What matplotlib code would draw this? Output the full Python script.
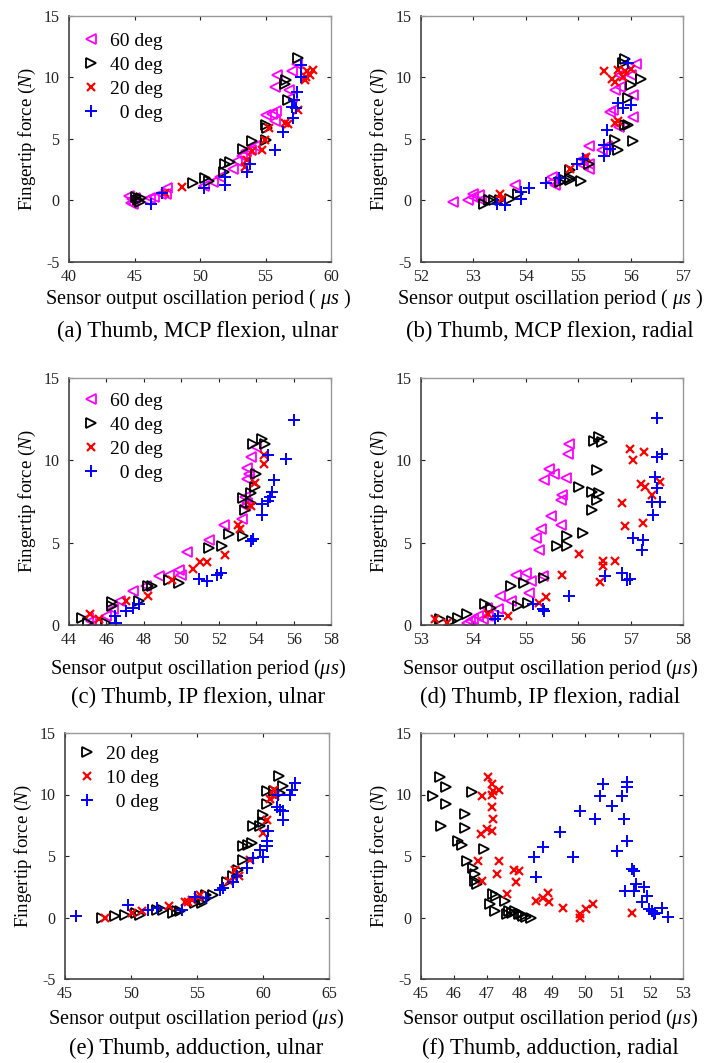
import matplotlib
matplotlib.use("Agg")
import matplotlib.pyplot as plt

plt.rcParams['font.family'] = ['Liberation Serif', 'DejaVu Serif']
plt.rcParams['mathtext.fontset'] = 'custom'
plt.rcParams['mathtext.rm'] = 'Liberation Serif'
plt.rcParams['mathtext.it'] = 'Liberation Serif:italic'
plt.rcParams['axes.unicode_minus'] = False

# ---------------- data ----------------
# (a) Thumb, MCP flexion, ulnar
a60_x = [44.6, 44.7, 44.8, 44.9, 45.0, 45.9, 46.2, 46.5, 47.0, 47.5, 47.4, 50.3, 51.0, 51.5, 52.5, 52.8,
         53.2, 53.5, 53.9, 54.2, 55.5, 55.8, 55.7, 55.9, 55.7, 57.0, 57.4, 57.0, 56.8, 55.0]
a60_y = [0.4, -0.2, 0.1, -0.3, 0.2, 0.0, 0.2, 0.3, 0.5, 1.0, 0.5, 1.2, 1.5, 1.9, 2.6, 3.2,
         3.6, 4.0, 4.1, 4.4, 7.0, 7.3, 6.5, 10.2, 9.25, 10.5, 11.1, 8.4, 9.0, 6.95]
a40_x = [45.1, 45.4, 45.3, 45.5, 49.5, 50.4, 50.7, 51.8, 51.9, 52.3, 53.3, 54.0, 55.0, 55.1, 56.5, 56.6,
         56.7, 57.5, 55.0]
a40_y = [0.3, -0.1, 0.0, 0.2, 1.4, 1.8, 1.6, 2.3, 3.0, 3.1, 4.2, 4.8, 6.1, 5.9, 9.5, 9.8,
         8.2, 11.6, 4.9]
a20_x = [48.65, 47.3, 53.45, 53.6, 54.7, 54.95, 55.3, 56.5, 57.5, 58.0, 58.2, 58.4, 58.6, 58.1, 53.95, 56.7]
a20_y = [1.1, 0.65, 2.7, 3.3, 4.1, 4.9, 5.9, 6.3, 7.35, 9.8, 10.5, 10.2, 10.6, 10.0, 4.0, 6.2]
a0_x = [46.25, 47.1, 50.3, 51.9, 51.9, 53.6, 53.8, 55.7, 56.3, 57.1, 57.35, 57.2, 57.4, 57.7, 57.7, 57.0]
a0_y = [-0.25, 0.6, 1.0, 1.25, 1.9, 2.35, 3.0, 4.1, 5.6, 6.7, 7.5, 8.2, 8.8, 11.0, 10.0, 7.6]

# (b) Thumb, MCP flexion, radial
b60_x = [52.62, 53.0, 53.0, 53.1, 52.9, 53.15, 53.8, 54.5, 54.5, 54.55, 55.1, 55.2, 55.2, 55.1, 55.2,
         55.45, 55.55, 55.6, 55.67, 55.7, 55.8, 55.8, 56.1, 56.05, 56.05, 56.0, 55.77]
b60_y = [-0.1, 0.3, 0.55, 0.45, 0.05, 0.0, 1.25, 1.9, 1.5, 1.25, 3.4, 3.0, 2.6, 2.9, 4.4,
         4.1, 4.4, 7.2, 7.35, 9.0, 9.25, 10.2, 11.1, 6.8, 8.6, 10.2, 6.0]
b40_x = [53.2, 53.3, 53.4, 53.5, 53.7, 53.85, 54.65, 54.75, 54.85, 55.05, 54.85, 55.2, 54.85, 55.7, 55.75,
         56.05, 55.95, 55.9, 56.0, 55.95, 56.2, 55.9, 55.85]
b40_y = [-0.25, 0.0, 0.0, 0.0, 0.15, 0.55, 1.5, 1.65, 1.65, 1.6, 1.8, 3.0, 2.5, 4.9, 4.1,
         4.8, 6.1, 6.1, 9.4, 8.3, 9.9, 11.5, 11.2]
b20_x = [53.5, 53.55, 54.85, 55.15, 55.5, 55.65, 55.75, 55.7, 55.75, 55.7, 55.85, 55.9, 56.0]
b20_y = [0.55, 0.15, 2.6, 3.5, 10.5, 9.9, 10.6, 9.6, 6.5, 6.3, 10.0, 10.5, 10.7]
b0_x = [53.45, 53.6, 53.9, 53.9, 54.07, 54.38, 54.63, 54.98, 55.1, 55.5, 55.5, 55.55, 55.75, 55.85,
        56.0, 55.95, 55.6]
b0_y = [-0.25, -0.4, 0.15, 0.7, 1.0, 1.4, 1.8, 3.0, 3.4, 4.5, 3.6, 5.7, 7.9, 7.5,
        7.8, 11.2, 4.2]

# (c) Thumb, IP flexion, ulnar
c60_x = [45.0, 45.2, 45.5, 46.0, 46.35, 46.7, 47.4, 48.1, 48.8, 49.35, 50.0, 49.9, 50.3, 51.5, 52.3,
         53.25, 53.4, 53.5, 53.5, 53.6, 53.5, 53.7, 54.0, 53.4]
c60_y = [0.4, 0.25, 0.15, 0.55, 0.95, 1.45, 2.05, 2.35, 2.95, 3.05, 3.05, 3.35, 4.45, 5.15, 6.05,
         6.45, 7.75, 7.4, 8.85, 9.15, 9.55, 10.2, 10.8, 7.2]
c40_x = [44.7, 45.0, 46.0, 46.3, 46.3, 47.75, 48.2, 48.45, 49.35, 49.9, 51.5, 52.2, 52.55, 53.3, 53.3,
         53.4, 53.75, 53.95, 54.0, 53.85, 54.3, 54.5, 53.7]
c40_y = [0.45, 0.15, 0.15, 1.15, 1.4, 1.45, 2.35, 2.35, 2.75, 2.55, 4.7, 4.8, 5.5, 5.4, 7.7,
         7.0, 7.4, 8.4, 9.2, 11.0, 11.3, 11.0, 8.0]
c20_x = [45.1, 45.6, 47.05, 48.2, 49.5, 50.6, 51.0, 51.4, 52.35, 53.05, 53.15, 53.75, 53.95, 54.4, 54.4]
c20_y = [0.65, 0.35, 1.45, 1.75, 2.75, 3.4, 3.85, 3.85, 4.25, 6.05, 5.85, 7.25, 8.6, 10.3, 9.8]
c0_x = [46.45, 47.05, 47.4, 47.75, 50.95, 51.4, 51.9, 52.1, 53.75, 53.85, 54.3, 54.3, 54.65, 54.75,
        54.85, 54.95, 54.65, 55.6, 56.0, 46.5]
c0_y = [0.55, 0.85, 1.05, 1.25, 2.8, 2.7, 3.05, 3.15, 5.1, 5.2, 6.65, 7.35, 7.55, 7.8,
        8.1, 8.8, 10.3, 10.1, 12.45, 0.15]

# (d) Thumb, IP flexion, radial
d60_x = [53.87, 53.93, 54.0, 54.09, 54.19, 54.25, 54.28, 54.47, 54.5, 54.72, 54.82, 55.0, 55.1, 55.07,
         55.32, 55.2, 55.26, 55.29, 55.48, 55.35, 55.45, 55.54, 55.67, 55.7, 55.67, 55.76, 55.8, 55.82]
d60_y = [0.14, 0.24, 0.34, 0.54, 0.34, 1.05, 0.54, 0.95, 1.75, 1.45, 3.06, 3.17, 2.66, 1.96,
         2.96, 5.28, 4.58, 5.8, 6.6, 8.8, 9.5, 9.2, 6.1, 7.9, 7.6, 8.9, 10.4, 11.0]
d40_x = [53.37, 53.6, 53.7, 53.87, 54.22, 54.34, 54.72, 54.85, 54.97, 55.04, 55.35, 55.6, 55.79, 55.79,
         56.01, 56.1, 56.27, 56.27, 56.4, 56.36, 56.36, 56.3, 56.39, 56.45]
d40_y = [0.34, 0.24, 0.44, 0.65, 1.25, 1.05, 2.36, 1.15, 2.56, 1.35, 2.86, 4.78, 4.78, 5.38,
         8.4, 5.58, 7.0, 8.1, 8.0, 7.6, 9.4, 11.2, 11.4, 11.1]
d20_x = [53.27, 53.49, 54.28, 54.66, 55.26, 55.38, 55.7, 56.01, 56.42, 56.47, 56.47, 56.7, 56.83, 56.9,
         56.99, 57.05, 57.2, 57.24, 57.26, 57.27, 57.4, 57.56]
d20_y = [0.34, 0.14, 0.65, 0.54, 1.35, 1.71, 3.02, 4.31, 2.6, 3.57, 3.87, 3.9, 7.4, 6.0,
         10.7, 10.0, 8.57, 6.19, 10.5, 8.4, 7.9, 8.7]
d0_x = [54.41, 54.47, 55.13, 55.32, 55.34, 55.82, 56.52, 56.93, 56.83, 56.99, 57.05, 57.24, 57.21,
        57.43, 57.4, 57.46, 57.5, 57.56, 57.5, 57.6, 57.5]
d0_y = [0.34, 0.54, 1.25, 0.95, 0.85, 1.75, 2.96, 2.76, 3.17, 2.8, 5.28, 5.18, 4.58,
        6.69, 7.5, 9.0, 8.3, 7.5, 10.22, 10.4, 12.6]

# (e) Thumb, adduction, ulnar
e20_x = [47.8, 48.8, 49.55, 50.4, 50.7, 51.95, 52.45, 53.2, 53.45, 53.7, 54.85, 55.35, 55.5, 55.7, 56.2,
         57.25, 57.75, 58.1, 58.5, 58.5, 58.9, 59.15, 59.25, 59.8, 60.0, 60.0, 60.3, 60.3, 60.8, 61.2,
         61.5, 61.3]
e20_y = [0.0, 0.1, 0.2, 0.35, 0.2, 0.6, 0.6, 0.4, 0.5, 0.55, 1.2, 1.15, 1.45, 1.85, 1.85,
         2.9, 3.35, 3.9, 4.7, 5.8, 5.9, 6.05, 7.4, 7.4, 8.35, 7.8, 9.2, 10.25, 10.25, 11.5,
         10.7, 10.1]
e10_x = [48.0, 50.05, 50.8, 52.85, 54.1, 54.35, 54.6, 55.1, 55.25, 57.4, 57.9, 58.15, 59.0, 60.0, 60.3,
         60.55, 60.8, 60.8, 60.9]
e10_y = [0.0, 0.35, 0.5, 0.9, 1.3, 1.3, 1.45, 1.7, 1.85, 2.95, 3.9, 3.35, 4.7, 6.85, 7.95,
         9.6, 10.0, 10.4, 9.85]
e0_x = [45.85, 49.8, 51.3, 51.95, 53.85, 54.85, 55.7, 56.75, 57.0, 57.75, 58.0, 58.75, 59.25, 59.75,
        60.0, 60.3, 60.3, 60.4, 61.05, 61.3, 61.55, 61.55, 62.05, 62.2, 62.4, 61.15]
e0_y = [0.1, 1.05, 0.6, 0.75, 0.6, 1.7, 1.55, 2.25, 2.4, 2.9, 3.35, 4.0, 4.85, 5.5,
        4.95, 5.8, 6.2, 7.0, 9.0, 8.75, 7.95, 8.65, 10.0, 10.4, 10.9, 10.0]

# (f) Thumb, adduction, radial
f20_x = [45.57, 45.36, 45.77, 45.77, 45.62, 46.55, 46.34, 46.34, 46.13, 46.24, 46.91, 46.39, 46.6, 46.65,
         46.65, 46.7, 47.2, 47.3, 47.1, 47.27, 47.58, 47.68, 47.78, 47.88, 48.04, 48.1, 48.2, 48.35,
         47.63, 47.99]
f20_y = [11.4, 9.9, 10.57, 9.2, 7.45, 10.2, 8.4, 7.3, 6.2, 5.9, 5.6, 4.6, 4.05, 3.5,
         2.98, 2.7, 1.9, 1.76, 1.08, 0.54, 1.35, 0.54, 0.4, 0.54, 0.27, 0.14, 0.05, -0.05,
         0.27, 0.27]
f10_x = [47.06, 47.16, 47.16, 47.37, 46.86, 47.2, 47.16, 47.2, 47.16, 47.0, 46.84, 46.75, 47.37, 47.32,
         46.86, 47.63, 47.84, 48.0, 47.9, 48.5, 48.71, 48.87, 48.92, 49.33, 49.85, 49.85, 50.05, 50.26,
         51.44]
f10_y = [11.4, 10.85, 10.0, 10.4, 9.9, 10.3, 8.95, 8.0, 7.05, 7.2, 6.78, 4.6, 4.6, 3.5,
         3.0, 1.9, 3.9, 3.8, 2.85, 1.35, 1.6, 2.03, 1.22, 0.8, 0.27, 0.0, 0.68, 1.08,
         0.4]
f0_x = [48.45, 48.71, 48.5, 49.23, 49.85, 49.64, 50.31, 50.46, 50.57, 50.82, 50.98, 51.13, 51.19, 51.29,
        51.29, 51.29, 51.24, 51.44, 51.5, 51.55, 51.5, 51.8, 51.75, 51.9, 51.96, 52.06, 52.16, 52.37,
        52.53, 52.1]
f0_y = [4.9, 5.7, 3.26, 6.92, 8.68, 4.9, 8.0, 9.9, 10.85, 9.1, 5.43, 9.9, 8.0, 6.24,
        11.0, 10.6, 2.17, 3.93, 3.8, 2.7, 2.17, 2.44, 1.22, 1.76, 0.68, 0.54, 0.4, 0.8,
        0.05, 0.27]

captions = ["(a) Thumb, MCP flexion, ulnar", "(b) Thumb, MCP flexion, radial",
            "(c) Thumb, IP flexion, ulnar", "(d) Thumb, IP flexion, radial",
            "(e) Thumb, adduction, ulnar", "(f) Thumb, adduction, radial"]
legend4 = ["60 deg", "40 deg", "20 deg", "  0 deg"]
legend3 = ["20 deg", "10 deg", "  0 deg"]
xlabel_spaced = r"Sensor output oscillation period ( $\mu s$ )"
xlabel_plain = r"Sensor output oscillation period ($\mu s$)"
ylabel = r"Fingertip force ($N$)"

# ---------------- layout ----------------
W, H = 704, 1063
fig = plt.figure(figsize=(W / 100, H / 100), dpi=100)

def add_ax(left, top, right, bottom):
    return fig.add_axes([left / W, 1 - bottom / H, (right - left) / W, (bottom - top) / H])

MAG = '#FF00FF'
BLK = '#000000'
RED = '#FF0000'
BLU = '#0000FF'

def style_series(ax, x, y, kind, label):
    if kind == 'tl':
        ax.plot(x, y, ls='none', marker='<', ms=7.5, mfc='none', mec=MAG, mew=1.3, label=label)
    elif kind == 'tr':
        ax.plot(x, y, ls='none', marker='>', ms=7.5, mfc='none', mec=BLK, mew=1.3, label=label)
    elif kind == 'x':
        ax.plot(x, y, ls='none', marker='x', ms=6, mec=RED, mew=1.6, label=label)
    else:
        ax.plot(x, y, ls='none', marker='+', ms=8, mec=BLU, mew=1.4, label=label)

def finish(ax, xlim, xticks, ylim, yticks, xl, cap, cx, xly, capy):
    ax.set_xlim(*xlim)
    ax.set_ylim(*ylim)
    ax.set_xticks(xticks)
    ax.set_yticks(yticks)
    ax.tick_params(direction='in', top=True, right=True, length=3, width=0.8,
                   labelsize=11.5, colors='#222222')
    ax.tick_params(axis='x', pad=5)
    ax.tick_params(axis='y', pad=7)
    for s in ['left', 'bottom']:
        ax.spines[s].set_color('#444444')
        ax.spines[s].set_linewidth(1.2)
    for s in ['top', 'right']:
        ax.spines[s].set_color('#999999')
        ax.spines[s].set_linewidth(1.0)
    ax.set_ylabel(ylabel, fontsize=13.6, labelpad=4)
    fig.text(cx / W, 1 - xly / H, xl, ha='center', va='center', fontsize=14.6)
    fig.text(cx / W, 1 - capy / H, cap, ha='center', va='center', fontsize=16.3)

def legend(ax, top_px):
    ax.legend(loc='upper left', frameon=False, fontsize=14, handlelength=0.8, handletextpad=0.55,
              labelspacing=0.33, borderaxespad=0.0, borderpad=0.0,
              bbox_to_anchor=(0.055, 1 - top_px / ax.bbox.height))

L1, R1, L2, R2 = 69, 331, 421, 683

# (a)
ax = add_ax(L1, 16, R1, 262)
style_series(ax, a60_x, a60_y, 'tl', legend4[0])
style_series(ax, a40_x, a40_y, 'tr', legend4[1])
style_series(ax, a20_x, a20_y, 'x', legend4[2])
style_series(ax, a0_x, a0_y, '+', legend4[3])
legend(ax, 16)
finish(ax, (40, 60), [40, 45, 50, 55, 60], (-5, 15), [-5, 0, 5, 10, 15], xlabel_spaced, captions[0], 198, 299, 331)

# (b)
ax = add_ax(L2, 16, R2, 262)
style_series(ax, b60_x, b60_y, 'tl', legend4[0])
style_series(ax, b40_x, b40_y, 'tr', legend4[1])
style_series(ax, b20_x, b20_y, 'x', legend4[2])
style_series(ax, b0_x, b0_y, '+', legend4[3])
finish(ax, (52, 57), [52, 53, 54, 55, 56, 57], (-5, 15), [-5, 0, 5, 10, 15], xlabel_spaced, captions[1], 550, 299, 331)

# (c)
ax = add_ax(L1, 378, R1, 625)
style_series(ax, c60_x, c60_y, 'tl', legend4[0])
style_series(ax, c40_x, c40_y, 'tr', legend4[1])
style_series(ax, c20_x, c20_y, 'x', legend4[2])
style_series(ax, c0_x, c0_y, '+', legend4[3])
legend(ax, 14)
finish(ax, (44, 58), list(range(44, 59, 2)), (0, 15), [0, 5, 10, 15], xlabel_plain, captions[2], 198, 669, 697)

# (d)
ax = add_ax(L2, 378, R2, 625)
style_series(ax, d60_x, d60_y, 'tl', legend4[0])
style_series(ax, d40_x, d40_y, 'tr', legend4[1])
style_series(ax, d20_x, d20_y, 'x', legend4[2])
style_series(ax, d0_x, d0_y, '+', legend4[3])
finish(ax, (53, 58), list(range(53, 59)), (0, 15), [0, 5, 10, 15], xlabel_plain, captions[3], 550, 669, 697)

# (e)
ax = add_ax(L1 - 4, 733, R1 - 2, 979)
style_series(ax, e20_x, e20_y, 'tr', legend3[0])
style_series(ax, e10_x, e10_y, 'x', legend3[1])
style_series(ax, e0_x, e0_y, '+', legend3[2])
legend(ax, 12)
finish(ax, (45, 65), [45, 50, 55, 60, 65], (-5, 15), [-5, 0, 5, 10, 15], xlabel_plain, captions[4], 196, 1019, 1048)

# (f)
ax = add_ax(L2, 733, R2, 979)
style_series(ax, f20_x, f20_y, 'tr', legend3[0])
style_series(ax, f10_x, f10_y, 'x', legend3[1])
style_series(ax, f0_x, f0_y, '+', legend3[2])
finish(ax, (45, 53), list(range(45, 54)), (-5, 15), [-5, 0, 5, 10, 15], xlabel_plain, captions[5], 550, 1019, 1048)

fig.savefig("out.png", dpi=100, facecolor='white')
